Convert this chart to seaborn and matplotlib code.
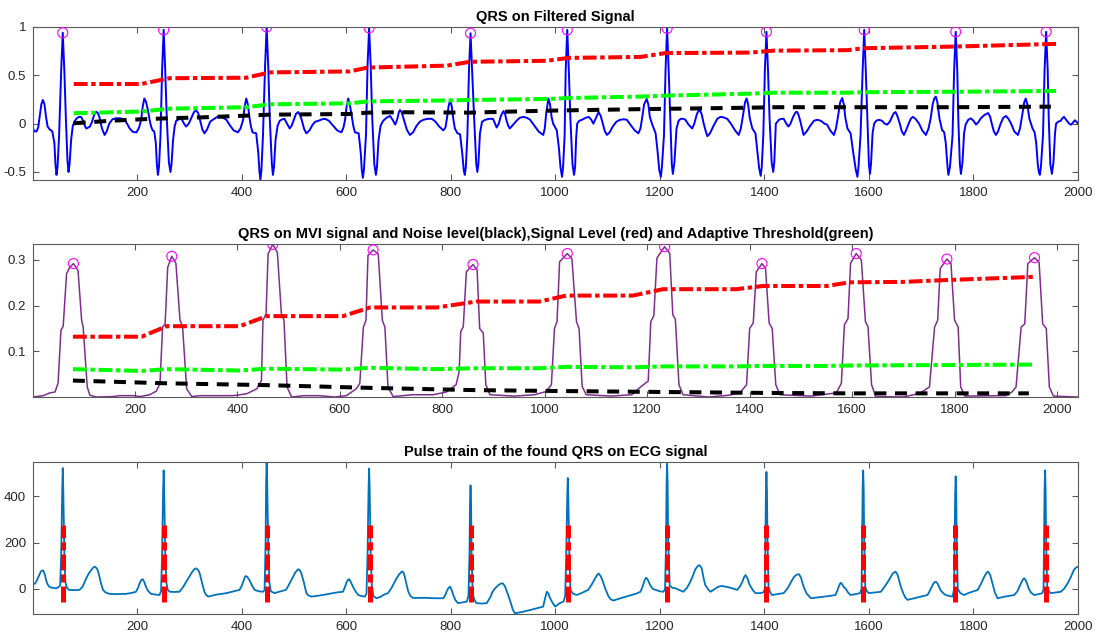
import matplotlib
matplotlib.use("Agg")
import matplotlib.pyplot as plt
import seaborn as sns

# ---------------- data ----------------
# Panel 1: band-pass filtered ECG (traced vertices, x = sample, y = amplitude)
FILT = [(1,-0.05),(4,-0.08),(8,-0.08),(11,-0.04),(14,0.08),(17,0.2),(20,0.245),(23,0.2),(26,0.07),(29,-0.03),(33,-0.06),(38,-0.08),(42,-0.2),(44,-0.42),(46,-0.53),(48,-0.45),(51,-0.12),(55,0.55),(58,0.94),(61,0.55),(64,0.05),(67,-0.38),(69,-0.5),(71,-0.42),(74,-0.17),(77,-0.03),(80,0.02),(85,0.056),(89,0.07),(93,0.07),(97,0.03),(100,-0.02),(103,-0.05),(107,-0.04),(110,-0.03),(114,0.02),(118,0.09),(122,0.124),(125,0.11),(128,0.07),(133,-0.05),(138,-0.117),(142,-0.08),(147,0.0),(153,0.045),(160,0.056),(168,0.055),(176,0.045),(181,0.0),(186,-0.05),(192,-0.085),(199,-0.09),(204,-0.04),(208,0.04),(211,0.18),(214,0.26),(217,0.23),(221,0.14),(224,0.04),(227,-0.03),(230,-0.07),(233,-0.08),(236,-0.2),(238,-0.42),(240,-0.53),(242,-0.45),(245,-0.12),(248,0.55),(251,0.97),(254,0.55),(257,0.05),(261,-0.4),(264,-0.5),(266,-0.42),(269,-0.17),(272,-0.03),(275,0.03),(280,0.045),(285,0.05),(290,0.0),(294,-0.03),(299,0.0),(304,0.06),(309,0.12),(313,0.14),(317,0.11),(320,0.05),(325,-0.06),(329,-0.1),(334,-0.06),(340,0.02),(345,0.04),(352,0.065),(358,0.07),(365,0.06),(371,0.04),(378,-0.02),(385,-0.07),(393,-0.09),(398,-0.05),(403,0.04),(406,0.18),(409,0.26),(412,0.2),(415,0.07),(418,-0.03),(421,-0.09),(428,-0.1),(432,-0.3),(434,-0.48),(436,-0.58),(438,-0.48),(441,-0.12),(445,0.6),(448,1.0),(451,0.6),(454,0.05),(458,-0.42),(460,-0.53),(462,-0.45),(465,-0.17),(469,-0.02),(473,0.03),(478,0.045),(482,0.05),(487,0.0),(492,-0.05),(496,-0.02),(500,0.04),(504,0.1),(508,0.12),(512,0.09),(515,0.04),(520,-0.06),(524,-0.1),(530,-0.07),(536,-0.01),(541,0.02),(547,0.03),(554,0.045),(560,0.05),(567,0.03),(575,-0.02),(583,-0.07),(591,-0.09),(595,-0.04),(598,0.04),(601,0.18),(604,0.26),(607,0.2),(611,0.07),(614,-0.03),(617,-0.09),(624,-0.1),(628,-0.3),(630,-0.48),(632,-0.56),(634,-0.48),(638,-0.12),(641,0.6),(644,0.99),(647,0.6),(650,0.05),(654,-0.42),(657,-0.53),(659,-0.45),(662,-0.17),(666,-0.02),(671,0.03),(677,0.06),(684,0.08),(689,0.04),(694,-0.01),(698,0.05),(701,0.12),(703,0.14),(706,0.12),(710,0.05),(716,-0.06),(722,-0.117),(728,-0.09),(735,-0.02),(741,0.02),(748,0.04),(756,0.05),(764,0.05),(771,0.02),(778,-0.03),(786,-0.07),(790,-0.04),(793,0.06),(796,0.18),(799,0.245),(802,0.18),(805,0.05),(808,-0.05),(813,-0.1),(818,-0.11),(822,-0.3),(825,-0.48),(827,-0.53),(829,-0.45),(832,-0.12),(835,0.55),(838,0.935),(841,0.55),(845,0.04),(849,-0.42),(851,-0.5),(853,-0.42),(856,-0.1),(860,0.02),(866,0.04),(874,0.05),(881,0.05),(885,0.0),(888,-0.04),(892,0.0),(896,0.08),(901,0.13),(904,0.1),(907,0.03),(910,-0.02),(913,-0.05),(918,-0.02),(926,0.03),(932,0.06),(939,0.07),(946,0.06),(952,0.04),(960,-0.02),(968,-0.08),(977,-0.117),(980,-0.05),(983,0.12),(987,0.26),(990,0.2),(993,0.07),(996,0.0),(1003,-0.07),(1007,-0.25),(1010,-0.45),(1013,-0.55),(1015,-0.45),(1018,-0.12),(1020,0.55),(1023,0.97),(1026,0.55),(1029,0.05),(1033,-0.42),(1036,-0.53),(1038,-0.45),(1040,-0.15),(1042,0.0),(1046,0.03),(1051,0.04),(1058,0.06),(1064,0.07),(1069,0.04),(1073,0.0),(1078,0.06),(1083,0.12),(1087,0.08),(1090,0.02),(1095,-0.08),(1099,-0.117),(1104,-0.09),(1110,-0.03),(1117,0.02),(1124,0.04),(1131,0.045),(1137,0.04),(1145,-0.02),(1152,-0.07),(1159,-0.1),(1163,-0.05),(1166,0.05),(1170,0.2),(1175,0.255),(1178,0.2),(1181,0.07),(1185,0.0),(1192,-0.1),(1196,-0.3),(1199,-0.48),(1202,-0.55),(1204,-0.45),(1208,-0.12),(1211,0.55),(1214,0.985),(1217,0.55),(1220,0.05),(1223,-0.42),(1225,-0.52),(1228,-0.4),(1232,-0.05),(1236,0.03),(1240,0.05),(1245,0.05),(1249,0.04),(1255,-0.01),(1262,-0.05),(1266,0.0),(1271,0.1),(1276,0.15),(1280,0.1),(1284,0.0),(1288,-0.08),(1291,-0.13),(1296,-0.1),(1303,-0.02),(1310,0.05),(1316,0.07),(1322,0.065),(1329,0.05),(1336,0.0),(1344,-0.07),(1351,-0.117),(1355,-0.05),(1359,0.08),(1363,0.22),(1366,0.26),(1369,0.2),(1372,0.06),(1377,-0.05),(1383,-0.1),(1387,-0.3),(1390,-0.46),(1393,-0.54),(1395,-0.45),(1398,-0.12),(1401,0.55),(1404,0.95),(1407,0.55),(1410,0.05),(1414,-0.4),(1417,-0.5),(1419,-0.4),(1422,0.0),(1428,0.04),(1433,0.05),(1437,0.05),(1442,0.0),(1446,-0.03),(1450,0.0),(1455,0.07),(1460,0.12),(1463,0.12),(1466,0.08),(1469,0.02),(1475,-0.117),(1481,-0.08),(1488,-0.02),(1495,0.03),(1501,0.04),(1508,0.03),(1515,0.0),(1520,-0.01),(1526,-0.07),(1533,-0.117),(1537,-0.05),(1541,0.08),(1545,0.22),(1549,0.265),(1552,0.2),(1555,0.06),(1559,-0.05),(1565,-0.1),(1570,-0.3),(1575,-0.48),(1578,-0.55),(1580,-0.45),(1584,-0.12),(1588,0.55),(1591,0.97),(1594,0.55),(1597,0.05),(1600,-0.42),(1602,-0.52),(1604,-0.42),(1607,-0.1),(1610,0.0),(1614,0.03),(1619,0.04),(1625,0.03),(1630,0.0),(1635,-0.01),(1640,0.02),(1645,0.08),(1648,0.11),(1651,0.12),(1655,0.07),(1659,0.0),(1663,-0.08),(1667,-0.117),(1671,-0.07),(1676,0.0),(1680,0.05),(1684,0.07),(1689,0.05),(1696,0.0),(1702,-0.07),(1709,-0.117),(1714,-0.05),(1718,0.05),(1722,0.2),(1725,0.26),(1728,0.28),(1731,0.22),(1735,0.05),(1740,-0.065),(1744,-0.09),(1747,-0.2),(1750,-0.42),(1752,-0.53),(1755,-0.45),(1760,-0.12),(1763,0.55),(1766,0.95),(1769,0.55),(1771,0.05),(1774,-0.42),(1776,-0.52),(1779,-0.4),(1782,-0.1),(1785,-0.01),(1790,0.04),(1795,0.055),(1800,0.03),(1805,-0.01),(1810,0.02),(1814,0.055),(1821,0.09),(1828,0.11),(1832,0.07),(1835,0.0),(1839,-0.08),(1843,-0.117),(1847,-0.08),(1852,0.0),(1857,0.06),(1862,0.08),(1867,0.05),(1872,0.0),(1878,-0.08),(1885,-0.117),(1889,-0.05),(1893,0.08),(1897,0.22),(1900,0.26),(1903,0.2),(1907,0.05),(1913,-0.05),(1917,-0.09),(1920,-0.2),(1923,-0.42),(1925,-0.5),(1927,-0.53),(1929,-0.45),(1933,-0.12),(1936,0.55),(1939,0.95),(1942,0.55),(1944,0.05),(1947,-0.42),(1950,-0.52),(1953,-0.4),(1956,-0.1),(1958,0.0),(1962,0.02),(1967,0.03),(1970,0.055),(1973,0.07),(1976,0.05),(1980,0.02),(1984,-0.005),(1987,-0.01),(1990,0.01),(1994,0.035),(1997,0.02),(2000,0.0)]
FILT_X = [p[0] for p in FILT]
FILT_Y = [p[1] for p in FILT]

QRS_RAW_LOC = [58, 251, 448, 644, 838, 1023, 1214, 1404, 1591, 1766, 1939]
QRS_FILT_AMP = [0.94, 0.97, 1.0, 0.99, 0.935, 0.97, 0.985, 0.95, 0.97, 0.95, 0.95]

SIG1_X = [79, 208, 262, 409, 454, 607, 641, 793, 837, 984, 1025, 1163, 1211, 1373, 1418, 1559, 1590, 1762, 1958]
SIG1_Y = [0.41, 0.41, 0.47, 0.475, 0.53, 0.54, 0.58, 0.60, 0.64, 0.65, 0.68, 0.69, 0.73, 0.735, 0.755, 0.76, 0.78, 0.797, 0.825]
THR1_X = SIG1_X
THR1_Y = [0.108, 0.125, 0.155, 0.17, 0.2, 0.21, 0.23, 0.24, 0.245, 0.255, 0.265, 0.28, 0.29, 0.31, 0.32, 0.32, 0.325, 0.33, 0.338]
NOI1_X = [79, 150, 208, 262, 330, 409, 454, 607, 641, 700, 837, 984, 1163, 1373, 1418, 1762, 1948]
NOI1_Y = [0.004, 0.03, 0.045, 0.056, 0.066, 0.083, 0.093, 0.1, 0.114, 0.118, 0.114, 0.134, 0.15, 0.165, 0.17, 0.17, 0.176]

# Panel 2: moving-window-integrated signal
MVI = [(1,0.0),(21,0.003),(34,0.009),(44,0.011),(50,0.03),(55.6,0.146),(60,0.155),(66.6,0.27),(73,0.284),(80,0.292),(89,0.277),(96,0.168),(99,0.153),(107,0.022),(112,0.004),(125,0.0),(158,0.001),(170,0.003),(197,0.003),(210,0.001),(229,0.005),(242,0.013),(249,0.03),(254,0.153),(259,0.16),(264,0.284),(272,0.308),(280,0.293),(288,0.168),(293,0.155),(301,0.018),(311,0.001),(327,0.003),(392,0.003),(418,0.007),(438,0.018),(447,0.036),(450,0.168),(456,0.182),(460,0.313),(469,0.334),(478,0.317),(486,0.182),(491,0.168),(497,0.022),(506,0.0),(530,0.003),(560,0.003),(590,0.0),(613,0.003),(632,0.018),(639,0.03),(646,0.153),(651,0.168),(655,0.31),(665,0.322),(675,0.313),(683,0.168),(688,0.153),(694,0.022),(704,0.001),(743,0.005),(782,0.005),(808,0.011),(827,0.027),(833,0.056),(836,0.143),(841,0.154),(847,0.274),(860,0.29),(868,0.278),(873,0.15),(880,0.14),(885,0.027),(893,0.005),(940,0.002),(980,0.005),(1003,0.012),(1013,0.027),(1019,0.15),(1024,0.165),(1029,0.296),(1044,0.314),(1053,0.303),(1062,0.165),(1067,0.15),(1073,0.023),(1081,0.005),(1130,0.002),(1170,0.005),(1185,0.02),(1202,0.035),(1207,0.165),(1213,0.178),(1219,0.304),(1234,0.329),(1244,0.314),(1250,0.18),(1255,0.17),(1262,0.027),(1270,0.005),(1320,0.0),(1360,0.004),(1381,0.009),(1394,0.027),(1400,0.15),(1407,0.162),(1413,0.274),(1424,0.292),(1431,0.282),(1438,0.162),(1444,0.15),(1451,0.027),(1459,0.005),(1520,0.002),(1569,0.009),(1579,0.03),(1585,0.158),(1592,0.172),(1597,0.293),(1608,0.314),(1618,0.3),(1626,0.165),(1631,0.154),(1638,0.027),(1646,0.001),(1700,0.0),(1732,0.008),(1751,0.022),(1761,0.153),(1767,0.168),(1772,0.281),(1785,0.302),(1793,0.292),(1800,0.168),(1807,0.153),(1812,0.022),(1820,0.002),(1900,0.003),(1912,0.011),(1920,0.022),(1930,0.153),(1937,0.16),(1943,0.292),(1956,0.305),(1965,0.295),(1972,0.16),(1979,0.15),(1985,0.022),(1993,0.002),(2040,0.0)]
MVI_X = [p[0] for p in MVI]
MVI_Y = [p[1] for p in MVI]

QRS_MVI_LOC = [80, 272, 469, 665, 860, 1044, 1234, 1424, 1608, 1785, 1956]
QRS_MVI_AMP = [0.292, 0.308, 0.334, 0.322, 0.29, 0.314, 0.329, 0.292, 0.314, 0.302, 0.305]

SIG2_X = [79, 213, 262, 405, 457, 606, 659, 789, 867, 990, 1042, 1172, 1231, 1374, 1426, 1550, 1595, 1700, 1784, 1956]
SIG2_Y = [0.132, 0.132, 0.155, 0.155, 0.177, 0.177, 0.196, 0.196, 0.209, 0.209, 0.222, 0.222, 0.236, 0.236, 0.243, 0.243, 0.251, 0.252, 0.256, 0.263]
THR2_X = [79, 213, 262, 405, 457, 606, 659, 789, 867, 990, 1042, 1172, 1231, 1374, 1426, 1550, 1595, 1784, 1956]
THR2_Y = [0.061, 0.057, 0.061, 0.058, 0.062, 0.06, 0.064, 0.061, 0.063, 0.063, 0.066, 0.065, 0.067, 0.067, 0.068, 0.068, 0.069, 0.07, 0.071]
NOI2_X = [79, 262, 457, 659, 867, 1042, 1231, 1426, 1595, 1785, 1945]
NOI2_Y = [0.036, 0.03, 0.026, 0.02, 0.015, 0.013, 0.011, 0.009, 0.008, 0.008, 0.008]

# Panel 3: raw ECG (mean removed)
ECG = [(1,24),(4,22),(7,30),(10,45),(13,60),(16,75),(19,80),(21,78),(24,60),(26,39),(29,20),(32,10),(38,5),(45,3),(50,8),(53,15),(55,150),(57,430),(58,522),(59,430),(61,150),(63,30),(66,5),(70,-4),(80,-5),(90,-4),(96,10),(103,46),(108,68),(112,80),(116,92),(119,96),(122,92),(125,81),(128,55),(131,25),(135,-4),(140,-15),(147,-21),(160,-22),(179,-21),(190,-17),(198,-12),(202,5),(205,24),(208,38),(211,42),(214,30),(217,10),(221,-8),(227,-21),(235,-24),(243,-26),(246,-10),(248,150),(250,430),(251,512),(252,430),(254,150),(256,30),(259,-5),(263,-12),(272,-13),(281,-12),(288,8),(294,30),(300,53),(306,75),(310,86),(313,89),(317,82),(320,67),(324,30),(329,-12),(332,-25),(336,-33),(350,-25),(371,-18),(385,-10),(396,-4),(400,12),(403,30),(406,50),(408,56),(411,52),(415,39),(420,15),(425,-4),(433,-10),(441,-12),(444,-5),(446,200),(447,460),(448,548),(449,460),(451,200),(453,30),(456,-10),(463,-18),(475,-10),(485,-4),(491,20),(498,50),(503,72),(508,85),(511,82),(514,70),(519,30),(524,-18),(528,-28),(534,-33),(550,-28),(575,-18),(585,-14),(594,-12),(598,10),(601,30),(604,40),(606,42),(609,30),(613,10),(618,-10),(623,-26),(630,-31),(636,-33),(639,-20),(641,150),(643,440),(644,520),(645,440),(647,150),(649,20),(652,-30),(658,-40),(665,-35),(672,-25),(680,-18),(687,5),(695,40),(701,62),(707,76),(710,70),(712,55),(715,25),(719,-12),(723,-30),(728,-39),(750,-38),(770,-40),(786,-40),(790,-25),(792,-12),(796,5),(799,10),(802,-5),(805,-26),(809,-48),(814,-61),(825,-57),(831,-54),(834,-30),(836,150),(837,380),(838,447),(839,380),(840,150),(842,-20),(845,-45),(849,-61),(860,-63),(869,-61),(876,-35),(880,-12),(885,3),(892,18),(897,24),(900,24),(904,10),(907,-8),(910,-26),(915,-60),(919,-90),(923,-105),(930,-102),(939,-98),(950,-92),(960,-86),(970,-80),(977,-76),(980,-45),(984,-12),(987,-20),(990,-39),(995,-60),(1000,-76),(1008,-62),(1016,-54),(1019,-30),(1021,150),(1023,400),(1024,479),(1025,400),(1027,150),(1029,-5),(1034,-20),(1041,-26),(1050,-18),(1063,-4),(1070,20),(1076,45),(1080,60),(1083,67),(1087,55),(1091,33),(1096,0),(1102,-33),(1106,-44),(1111,-50),(1125,-40),(1140,-30),(1155,-20),(1163,-12),(1167,10),(1171,38),(1174,49),(1177,40),(1182,15),(1187,0),(1192,-4),(1200,-10),(1207,-12),(1210,0),(1212,200),(1213,460),(1214,540),(1215,460),(1216,200),(1219,15),(1224,5),(1230,3),(1238,-5),(1245,-12),(1252,5),(1257,25),(1262,50),(1268,85),(1273,100),(1276,103),(1280,90),(1284,45),(1287,17),(1292,0),(1297,-12),(1305,0),(1312,10),(1319,13),(1330,8),(1340,2),(1348,-4),(1353,10),(1358,31),(1361,50),(1364,60),(1368,45),(1371,22),(1374,10),(1378,-5),(1383,-18),(1392,-18),(1398,-15),(1401,0),(1402,200),(1403,420),(1404,505),(1405,420),(1406,200),(1408,10),(1411,-15),(1415,-26),(1425,-22),(1437,-18),(1445,5),(1451,30),(1457,53),(1462,62),(1466,64),(1470,50),(1473,25),(1476,5),(1481,-20),(1489,-40),(1500,-37),(1514,-33),(1525,-30),(1536,-26),(1540,-5),(1543,15),(1546,27),(1549,20),(1552,8),(1556,0),(1560,-15),(1565,-26),(1575,-22),(1583,-18),(1586,0),(1587,200),(1588,430),(1589,512),(1590,430),(1591,200),(1593,10),(1596,-10),(1600,-18),(1612,-15),(1623,-12),(1630,10),(1636,30),(1642,53),(1646,68),(1651,75),(1655,60),(1658,35),(1661,10),(1666,-20),(1670,-38),(1674,-47),(1690,-38),(1705,-30),(1712,-26),(1715,-15),(1718,0),(1723,22),(1726,30),(1728,31),(1731,25),(1734,10),(1737,-5),(1742,-18),(1747,-26),(1755,-31),(1760,-33),(1763,0),(1764,200),(1765,410),(1766,486),(1767,410),(1768,200),(1770,0),(1775,-18),(1782,-26),(1790,-18),(1800,-10),(1808,-4),(1814,20),(1820,50),(1825,70),(1828,75),(1832,60),(1835,35),(1837,20),(1841,-15),(1846,-40),(1860,-33),(1870,-29),(1878,-26),(1884,-10),(1888,10),(1892,30),(1895,42),(1897,46),(1900,38),(1903,20),(1906,0),(1910,-15),(1916,-26),(1925,-22),(1932,-18),(1934,0),(1935,200),(1936,430),(1937,512),(1938,430),(1939,200),(1941,10),(1944,-10),(1948,-18),(1958,-15),(1967,-12),(1973,0),(1980,24),(1986,50),(1992,82),(1996,92),(2000,96)]
ECG_X = [p[0] for p in ECG]
ECG_Y = [p[1] for p in ECG]
PULSE_LOC = [59, 252, 448, 645, 839, 1025, 1214, 1403, 1588, 1765, 1938]
PULSE_LOW, PULSE_HIGH = -55, 274

TITLES = ["QRS on Filtered Signal",
          "QRS on MVI signal and Noise level(black),Signal Level (red) and Adaptive Threshold(green)",
          "Pulse train of the found QRS on ECG signal"]
XTICKS = [200, 400, 600, 800, 1000, 1200, 1400, 1600, 1800, 2000]

# ---------------- style ----------------
sns.set_theme(style="white")
plt.rcParams["font.family"] = ["Liberation Sans", "DejaVu Sans"]
plt.rcParams["axes.unicode_minus"] = False
plt.rcParams["lines.scale_dashes"] = False

AX_COL = "#5a5a5a"
TXT_COL = "#262626"

fig = plt.figure(figsize=(10.95, 6.42), dpi=100)
boxes = [(0.0301, 0.7196, 0.9544, 0.2384),
         (0.0301, 0.3816, 0.9544, 0.2384),
         (0.0301, 0.0436, 0.9544, 0.2368)]
axes = [fig.add_axes(b) for b in boxes]

DASHDOT = (0, (10, 2.6, 3.2, 2.6))
DASHED = (0, (8.6, 6.2))

# Panel 1
ax = axes[0]
sns.lineplot(x=FILT_X, y=FILT_Y, ax=ax, color="#0000ff", linewidth=1.4, sort=False, estimator=None)
sns.scatterplot(x=QRS_RAW_LOC, y=QRS_FILT_AMP, ax=ax, marker="o", s=52,
                facecolors="none", edgecolor="#ff00ff", linewidth=0.8, zorder=5)
sns.lineplot(x=NOI1_X, y=NOI1_Y, ax=ax, color="black", linewidth=2.9, linestyle=DASHED, sort=False, estimator=None)
sns.lineplot(x=SIG1_X, y=SIG1_Y, ax=ax, color="#ff0000", linewidth=2.9, linestyle=DASHDOT, sort=False, estimator=None)
sns.lineplot(x=THR1_X, y=THR1_Y, ax=ax, color="#00ff00", linewidth=2.9, linestyle=DASHDOT, sort=False, estimator=None)
ax.set_xlim(1, 2000)
ax.set_ylim(-0.583, 1.0)
ax.set_yticks([-0.5, 0, 0.5, 1])
ax.set_yticklabels(["-0.5", "0", "0.5", "1"])

# Panel 2
ax = axes[1]
sns.lineplot(x=MVI_X, y=MVI_Y, ax=ax, color="#7e2f8e", linewidth=1.1, sort=False, estimator=None)
sns.scatterplot(x=QRS_MVI_LOC, y=QRS_MVI_AMP, ax=ax, marker="o", s=52,
                facecolors="none", edgecolor="#ff00ff", linewidth=0.8, zorder=5)
sns.lineplot(x=NOI2_X, y=NOI2_Y, ax=ax, color="black", linewidth=2.9, linestyle=DASHED, sort=False, estimator=None)
sns.lineplot(x=SIG2_X, y=SIG2_Y, ax=ax, color="#ff0000", linewidth=2.9, linestyle=DASHDOT, sort=False, estimator=None)
sns.lineplot(x=THR2_X, y=THR2_Y, ax=ax, color="#00ff00", linewidth=2.9, linestyle=DASHDOT, sort=False, estimator=None)
ax.set_xlim(1, 2041)
ax.set_ylim(0, 0.335)
ax.set_yticks([0.1, 0.2, 0.3])
ax.set_yticklabels(["0.1", "0.2", "0.3"])

# Panel 3
ax = axes[2]
sns.lineplot(x=ECG_X, y=ECG_Y, ax=ax, color="#0072bd", linewidth=1.3, sort=False, estimator=None)
ax.vlines(PULSE_LOC, PULSE_LOW, PULSE_HIGH, colors="#ff0000", linewidth=3.6,
          linestyles=[(0, (11.5, 2.9, 5.8, 2.9))], zorder=4)
ax.set_xlim(1, 2000)
ax.set_ylim(-108, 548)
ax.set_yticks([0, 200, 400])
ax.set_yticklabels(["0", "200", "400"])

for ax, t in zip(axes, TITLES):
    ax.set_xticks(XTICKS)
    ax.set_xticklabels([str(v) for v in XTICKS])
    ax.set_title(t, fontsize=10.5, fontweight="bold", color="black", pad=4)
    ax.set_xlabel("")
    ax.set_ylabel("")
    for s in ax.spines.values():
        s.set_visible(True)
        s.set_color(AX_COL)
        s.set_linewidth(0.8)
    ax.tick_params(axis="both", which="both", direction="in", length=4, width=0.8,
                   color=AX_COL, labelcolor=TXT_COL, labelsize=9.5,
                   top=True, right=True, bottom=True, left=True, pad=5)
    ax.set_facecolor("white")

fig.savefig("out.png", dpi=100, facecolor="white")
